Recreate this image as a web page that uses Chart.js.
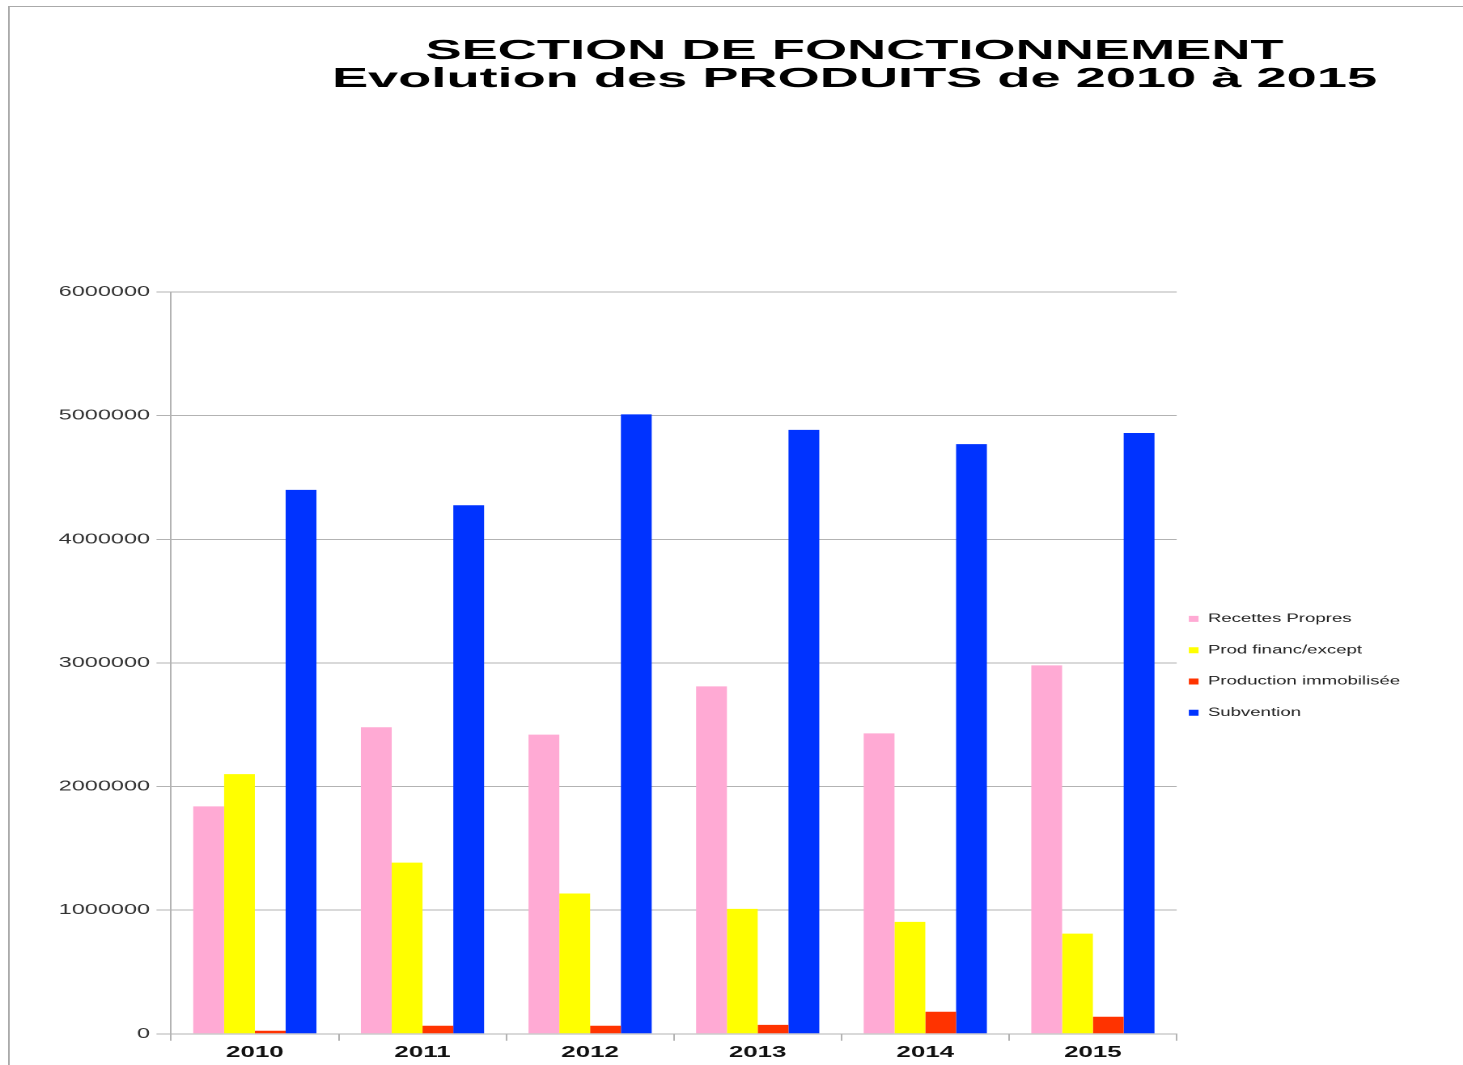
<!DOCTYPE html>
<html>
<head>
<meta charset="utf-8">
<script src="https://cdn.jsdelivr.net/npm/chart.js@4.4.0/dist/chart.umd.min.js"></script>
<style>
    html, body { margin: 0; padding: 0; overflow: hidden; background: #fff; }
    #chart { display: block; transform: scaleX(1.6184); transform-origin: 0 0; }
</style>
</head>
<body>
<canvas id="chart" width="904" height="1065"></canvas>
<script>
const years = ["2010", "2011", "2012", "2013", "2014", "2015"];
const recettesPropres = [1840000, 2480000, 2420000, 2810000, 2430000, 2980000];
const prodFinanc = [2100000, 1385000, 1135000, 1010000, 905000, 810000];
const productionImmo = [25000, 65000, 65000, 72000, 178000, 138000];
const subvention = [4400000, 4275000, 5010000, 4885000, 4770000, 4860000];
const yTicks = [0, 1000000, 2000000, 3000000, 4000000, 5000000, 6000000];
const titleLines = ["SECTION DE FONCTIONNEMENT", "Evolution des PRODUITS de 2010 à 2015"];

const gridColor = "#b3b3b3";

// fond, cadre et titre (le texte est étiré comme sur l'original)
const decor = {
    id: "decor",
    beforeDraw(chart) {
        const ctx = chart.ctx;
        ctx.save();
        ctx.fillStyle = "#fff";
        ctx.fillRect(0, 0, chart.width, chart.height);
        ctx.strokeStyle = "#aaaaaa";
        ctx.lineWidth = 1;
        ctx.strokeRect(5.5, 6.5, chart.width + 20, chart.height + 20);
        ctx.restore();
    },
    afterDraw(chart) {
        const ctx = chart.ctx;
        ctx.save();
        ctx.fillStyle = "#000";
        ctx.font = "bold 28px 'Liberation Sans', Arial, sans-serif";
        ctx.textAlign = "center";
        ctx.textBaseline = "alphabetic";
        ctx.translate(528, 0);
        ctx.scale(1.196, 1);
        ctx.fillText(titleLines[0], 0, 59);
        ctx.fillText(titleLines[1], 0, 87);
        ctx.restore();
    }
};

new Chart(document.getElementById("chart"), {
    type: "bar",
    data: {
        labels: years,
        datasets: [
            { label: "Recettes Propres", data: recettesPropres, backgroundColor: "#ffaad4" },
            { label: "Prod financ/except", data: prodFinanc, backgroundColor: "#ffff00" },
            { label: "Production immobilisée", data: productionImmo, backgroundColor: "#ff3300" },
            { label: "Subvention", data: subvention, backgroundColor: "#0033ff" }
        ]
    },
    options: {
        responsive: false,
        animation: false,
        devicePixelRatio: 2,
        layout: { padding: { top: 292, right: 28.8, bottom: 1, left: 0 } },
        datasets: {
            bar: { categoryPercentage: 0.735, barPercentage: 1.0, borderWidth: 0 }
        },
        plugins: {
            tooltip: { enabled: false },
            legend: {
                position: "right",
                fullSize: false,
                align: "center",
                title: { display: true, text: " ", padding: 0, font: { size: 10, lineHeight: 1.82 } },
                labels: {
                    boxWidth: 6,
                    boxHeight: 6,
                    padding: 7.5,
                    color: "#222",
                    font: { family: "'Liberation Sans', Arial, sans-serif", size: 11.5, lineHeight: 2.07 },
                    generateLabels: chart => Chart.defaults.plugins.legend.labels.generateLabels(chart)
                        .map(item => Object.assign(item, { text: [item.text] }))
                }
            }
        },
        scales: {
            x: {
                grid: { drawOnChartArea: false, drawTicks: true, tickLength: 7, color: gridColor, offset: true },
                border: { display: true, color: gridColor },
                ticks: {
                    color: "#111",
                    padding: 2,
                    font: { family: "'Liberation Sans', Arial, sans-serif", size: 16, weight: "bold" }
                }
            },
            y: {
                min: yTicks[0],
                max: yTicks[yTicks.length - 1],
                afterBuildTicks: scale => { scale.ticks = yTicks.map(v => ({ value: v })); },
                afterFit: scale => { scale.width = 105.7; },
                grid: { color: gridColor, tickLength: 9 },
                border: { display: true, color: gridColor },
                ticks: {
                    color: "#333",
                    padding: 4,
                    font: { family: "'Liberation Sans', Arial, sans-serif", size: 14.5 },
                    callback: v => String(v)
                }
            }
        }
    },
    plugins: [decor]
});
</script>
</body>
</html>
